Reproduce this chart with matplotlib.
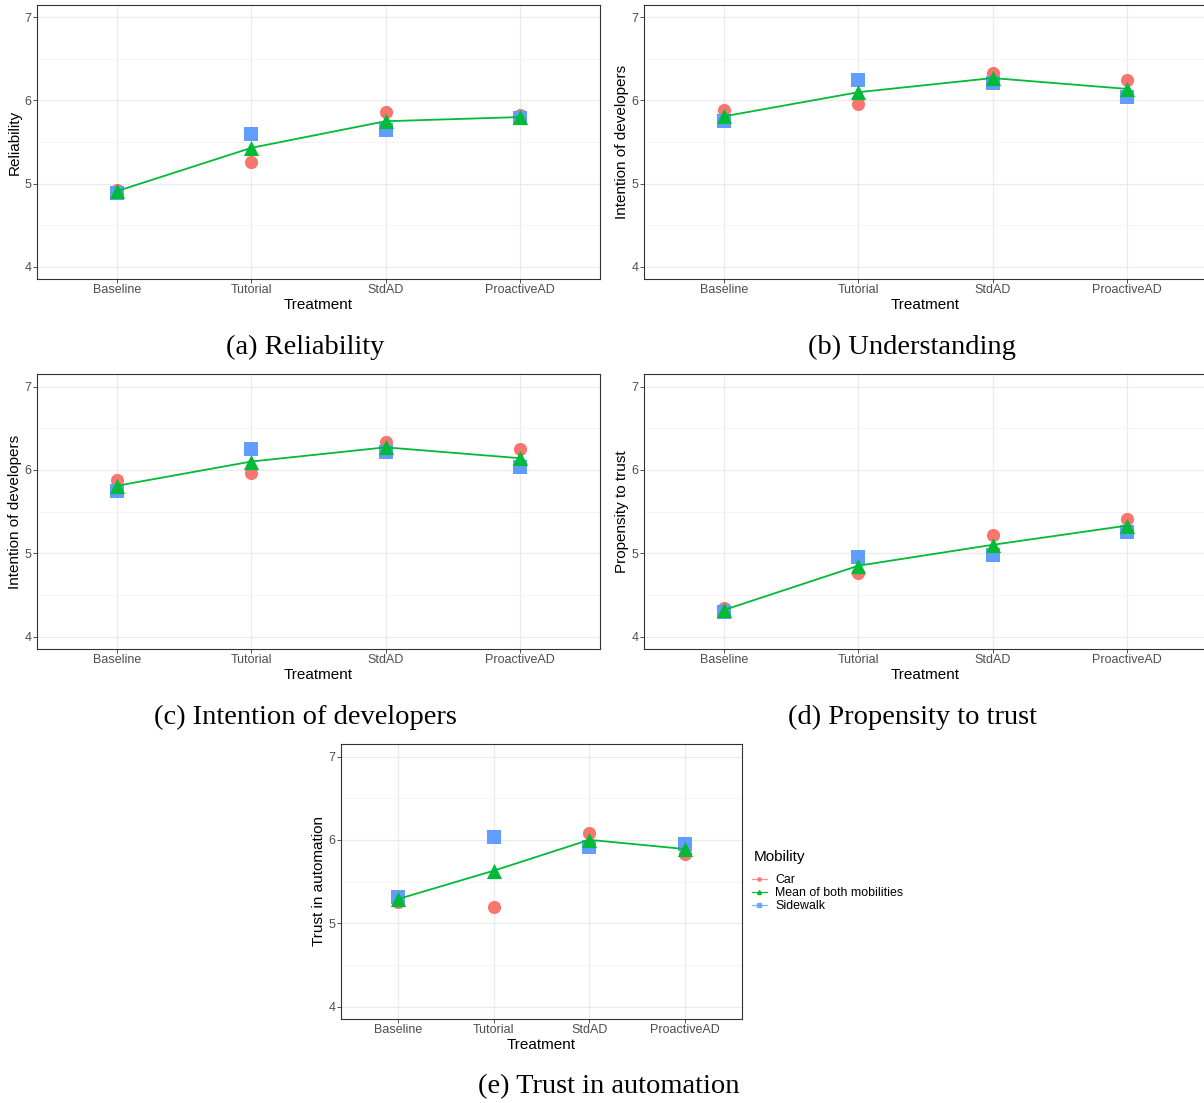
import matplotlib
matplotlib.use("Agg")
import matplotlib.pyplot as plt
from matplotlib.lines import Line2D
from matplotlib.ticker import MultipleLocator

plt.rcParams['font.family'] = ['Liberation Sans', 'DejaVu Sans']

treatments = ["Baseline", "Tutorial", "StdAD", "ProactiveAD"]

# valeurs
reliability_car = [4.92, 5.26, 5.86, 5.82]
reliability_side = [4.89, 5.60, 5.65, 5.79]
reliability_mean = [4.91, 5.43, 5.75, 5.80]

intention_car = [5.88, 5.96, 6.33, 6.25]
intention_side = [5.75, 6.25, 6.21, 6.04]
intention_mean = [5.81, 6.10, 6.27, 6.14]

propensity_car = [4.34, 4.76, 5.22, 5.41]
propensity_side = [4.30, 4.95, 4.98, 5.25]
propensity_mean = [4.32, 4.85, 5.10, 5.33]

trust_car = [5.25, 5.20, 6.08, 5.83]
trust_side = [5.32, 6.03, 5.91, 5.95]
trust_mean = [5.29, 5.63, 6.00, 5.89]

c_car = "#F8766D"
c_mean = "#00BA38"
c_side = "#619CFF"

W, H = 1204, 1103
fig = plt.figure(figsize=(W / 100, H / 100), dpi=100)


def px_axes(left, top, right, bottom):
    return fig.add_axes([left / W, 1 - bottom / H, (right - left) / W, (bottom - top) / H])


def panel(ax, car, side, mean, ylabel):
    x = list(range(1, len(treatments) + 1))
    ax.scatter(x, car, s=90, marker="o", color=c_car, zorder=3, linewidths=0)
    ax.scatter(x, side, s=95, marker="s", color=c_side, zorder=3, linewidths=0)
    ax.plot(x, mean, color=c_mean, lw=1.3, zorder=4)
    ax.scatter(x, mean, s=120, marker="^", color=c_mean, zorder=5, linewidths=0)

    ax.set_xlim(0.4, 4.6)
    ax.set_ylim(3.85, 7.15)
    ax.set_xticks(x)
    ax.set_xticklabels(treatments)
    ax.yaxis.set_major_locator(MultipleLocator(1))
    ax.yaxis.set_minor_locator(MultipleLocator(0.5))
    ax.grid(True, which="major", color="#EBEBEB", lw=0.9)
    ax.grid(True, which="minor", axis="y", color="#F2F2F2", lw=0.6)
    ax.set_axisbelow(True)
    ax.tick_params(axis="both", which="major", length=3, width=0.6, color="#333333",
                   labelsize=9, labelcolor="#4D4D4D", pad=1)
    ax.tick_params(axis="x", which="major", pad=0.5)
    ax.tick_params(axis="y", which="minor", length=0)
    for s in ax.spines.values():
        s.set_color("#333333")
        s.set_linewidth(0.8)
    ax.set_xlabel("Treatment", fontsize=11, labelpad=1.5)
    ax.set_ylabel(ylabel, fontsize=11, labelpad=2)


ax_a = px_axes(37, 5, 600, 279)
panel(ax_a, reliability_car, reliability_side, reliability_mean, "Reliability")

ax_b = px_axes(644, 5, 1207, 279)
panel(ax_b, intention_car, intention_side, intention_mean, "Intention of developers")

ax_c = px_axes(37, 374, 600, 649)
panel(ax_c, intention_car, intention_side, intention_mean, "Intention of developers")

ax_d = px_axes(644, 374, 1207, 649)
panel(ax_d, propensity_car, propensity_side, propensity_mean, "Propensity to trust")

ax_e = px_axes(341, 744, 742, 1019)
panel(ax_e, trust_car, trust_side, trust_mean, "Trust in automation")

# légende
fig.text(754 / W, 1 - 857 / H, "Mobility", ha="left", va="center", fontsize=11)
handles = [
    Line2D([], [], color=c_car, marker="o", ms=2.5, lw=0.9, alpha=0.8),
    Line2D([], [], color=c_mean, marker="^", ms=2.8, lw=0.9),
    Line2D([], [], color=c_side, marker="s", ms=2.5, lw=0.9, alpha=0.8),
]
fig.legend(handles, ["Car", "Mean of both mobilities", "Sidewalk"],
           loc="upper left", bbox_to_anchor=(752 / W, 1 - 874 / H), frameon=False,
           fontsize=8.9, handlelength=1.2, handletextpad=0.7,
           labelspacing=0.1, borderpad=0, borderaxespad=0)

# sous-titres
serif = ['Liberation Serif', 'DejaVu Serif']
captions = [
    ("(a) Reliability", 305, 347),
    ("(b) Understanding", 912, 347),
    ("(c) Intention of developers", 305, 717),
    ("(d) Propensity to trust", 912, 717),
    ("(e) Trust in automation", 609, 1087),
]
for txt, cx, cy in captions:
    fig.text(cx / W, 1 - cy / H, txt, ha="center", va="center",
             fontsize=20.5, family=serif)

fig.savefig("out.png", dpi=100)
